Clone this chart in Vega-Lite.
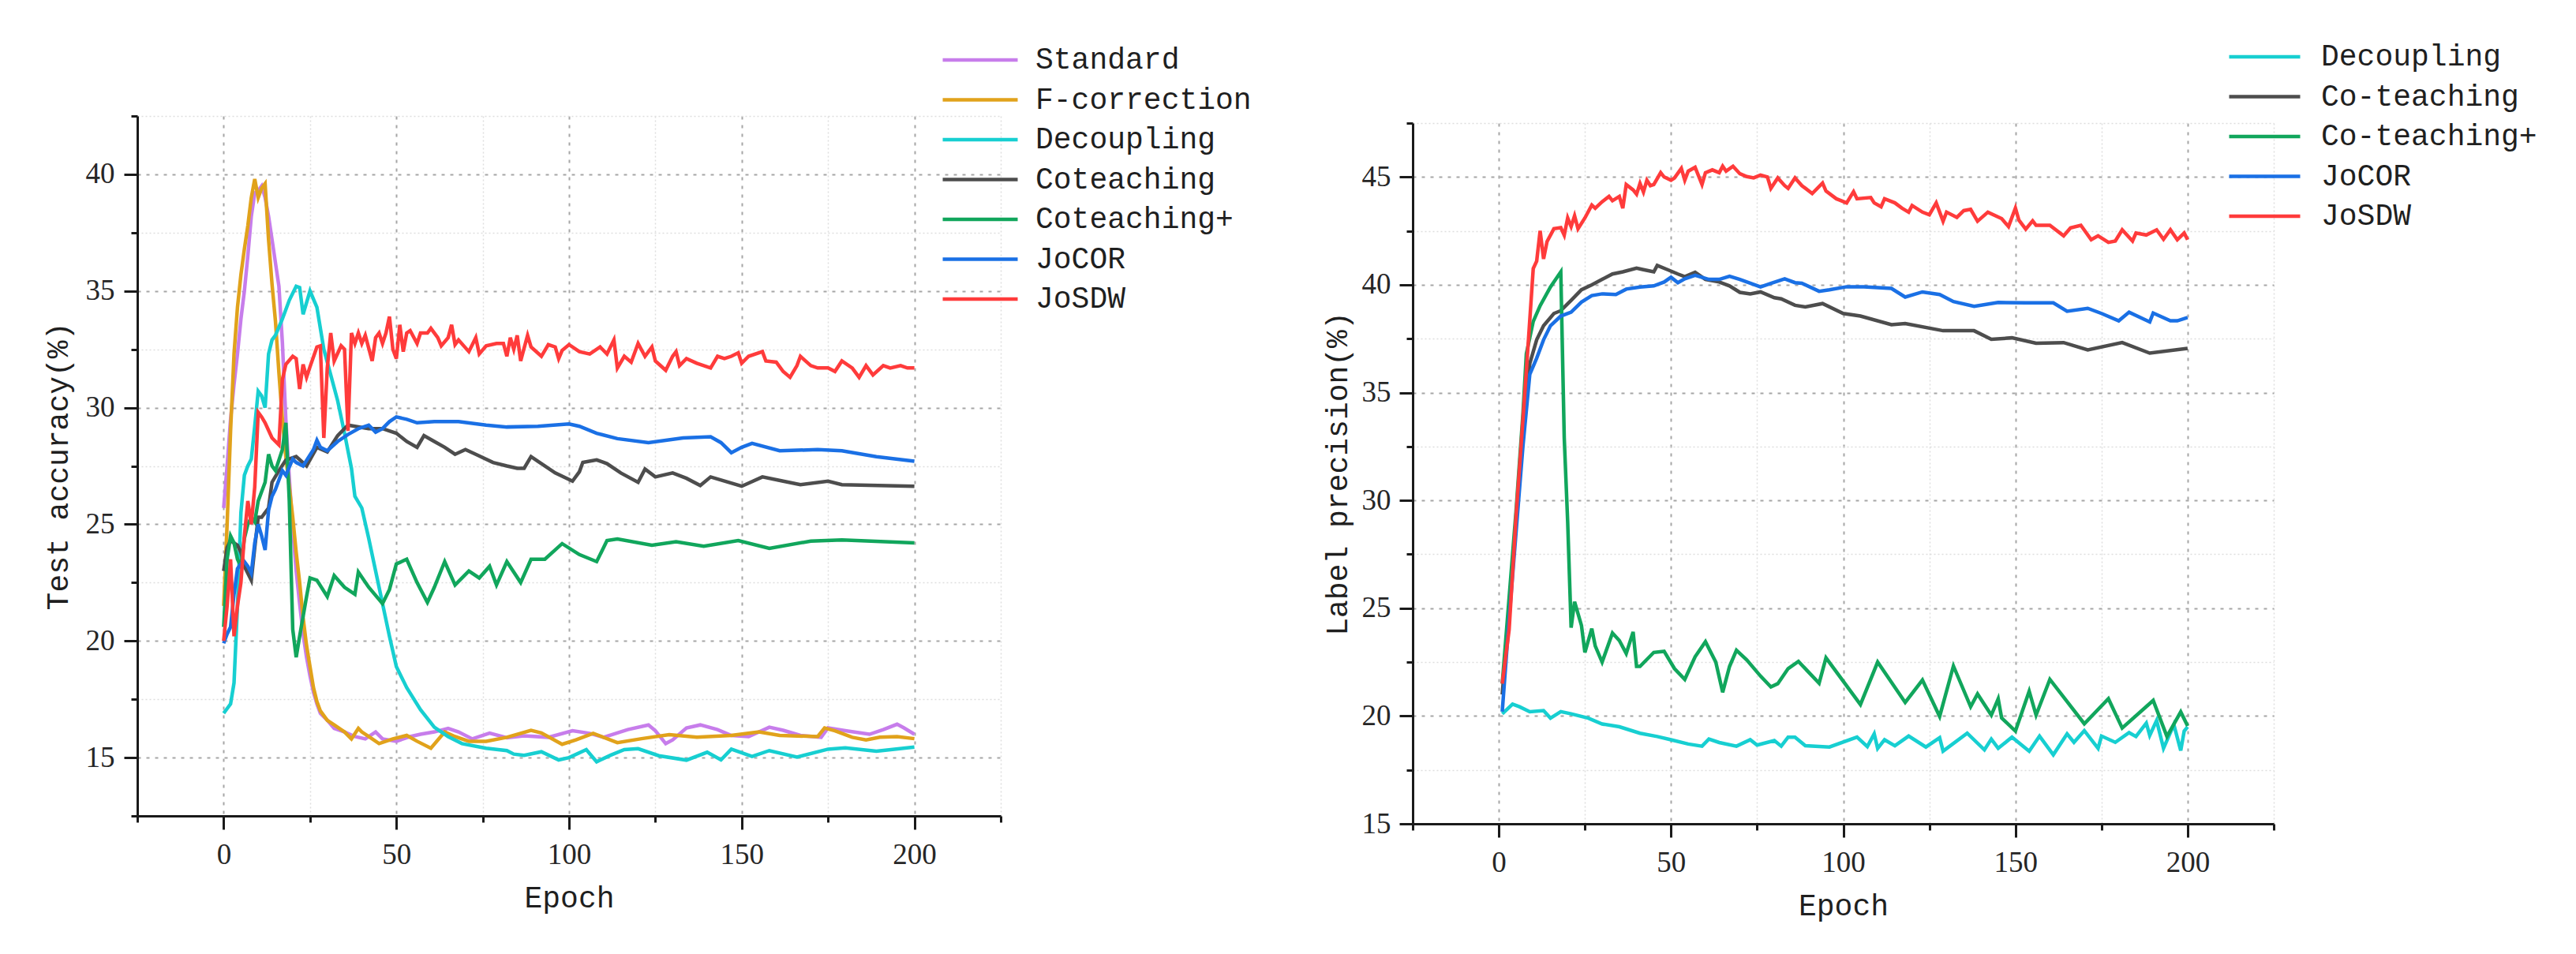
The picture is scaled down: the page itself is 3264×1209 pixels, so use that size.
{
  "$schema": "https://vega.github.io/schema/vega-lite/v6.json",
  "background": "white",
  "padding": {"left": 55, "top": 52, "right": 10, "bottom": 10},
  "autosize": {"type": "pad"},
  "config": {
    "view": {"stroke": null},
    "axis": {
      "domainColor": "#1a1a1a",
      "domainWidth": 3,
      "tickColor": "#1a1a1a",
      "tickWidth": 3,
      "labelFont": "Liberation Serif",
      "labelFontSize": 37,
      "labelColor": "#262626",
      "titleFont": "Liberation Mono",
      "titleFontSize": 38,
      "titleFontWeight": "normal",
      "titleColor": "#1f1f1f",
      "grid": true,
      "labelFlush": false,
      "labelOverlap": false
    },
    "legend": {
      "orient": "none",
      "title": null,
      "symbolType": "stroke",
      "symbolStrokeWidth": 4.5,
      "clipHeight": 40,
      "rowPadding": 10.5,
      "labelFont": "Liberation Mono",
      "labelFontSize": 38,
      "labelColor": "#1f1f1f",
      "labelLimit": 0,
      "padding": 0
    }
  },
  "datasets": {
    "acc": [
      {"method": "Standard", "epoch": 0, "value": 25.7}, {"method": "Standard", "epoch": 1, "value": 27.5}, {"method": "Standard", "epoch": 2, "value": 29.5}, {"method": "Standard", "epoch": 3, "value": 31}, {"method": "Standard", "epoch": 4, "value": 32.3}, {"method": "Standard", "epoch": 5, "value": 33.8}, {"method": "Standard", "epoch": 6, "value": 35}, {"method": "Standard", "epoch": 7, "value": 36.5}, {"method": "Standard", "epoch": 8, "value": 38.2}, {"method": "Standard", "epoch": 9, "value": 39.2}, {"method": "Standard", "epoch": 10, "value": 39.3}, {"method": "Standard", "epoch": 11, "value": 39.5}, {"method": "Standard", "epoch": 12, "value": 39}, {"method": "Standard", "epoch": 13, "value": 38.2}, {"method": "Standard", "epoch": 14, "value": 37.2}, {"method": "Standard", "epoch": 15, "value": 36.2}, {"method": "Standard", "epoch": 16, "value": 35.2}, {"method": "Standard", "epoch": 17, "value": 32.8}, {"method": "Standard", "epoch": 18, "value": 29.5}, {"method": "Standard", "epoch": 19, "value": 27}, {"method": "Standard", "epoch": 20, "value": 24.8}, {"method": "Standard", "epoch": 21, "value": 23}, {"method": "Standard", "epoch": 22, "value": 21.6}, {"method": "Standard", "epoch": 23, "value": 20.3}, {"method": "Standard", "epoch": 24, "value": 19.3}, {"method": "Standard", "epoch": 25, "value": 18.5}, {"method": "Standard", "epoch": 26, "value": 17.8}, {"method": "Standard", "epoch": 27, "value": 17.3}, {"method": "Standard", "epoch": 28, "value": 16.9}, {"method": "Standard", "epoch": 30, "value": 16.6}, {"method": "Standard", "epoch": 32, "value": 16.25}, {"method": "Standard", "epoch": 35, "value": 16.1}, {"method": "Standard", "epoch": 38, "value": 15.9}, {"method": "Standard", "epoch": 41, "value": 15.8}, {"method": "Standard", "epoch": 44, "value": 16.1}, {"method": "Standard", "epoch": 46, "value": 15.8}, {"method": "Standard", "epoch": 50, "value": 15.7}, {"method": "Standard", "epoch": 54, "value": 15.9}, {"method": "Standard", "epoch": 57, "value": 16}, {"method": "Standard", "epoch": 61, "value": 16.1}, {"method": "Standard", "epoch": 65, "value": 16.25}, {"method": "Standard", "epoch": 68, "value": 16.1}, {"method": "Standard", "epoch": 72, "value": 15.8}, {"method": "Standard", "epoch": 77, "value": 16.05}, {"method": "Standard", "epoch": 82, "value": 15.85}, {"method": "Standard", "epoch": 87, "value": 15.93}, {"method": "Standard", "epoch": 94, "value": 15.87}, {"method": "Standard", "epoch": 101, "value": 16.15}, {"method": "Standard", "epoch": 106, "value": 16.04}, {"method": "Standard", "epoch": 110, "value": 15.87}, {"method": "Standard", "epoch": 117, "value": 16.2}, {"method": "Standard", "epoch": 123, "value": 16.4}, {"method": "Standard", "epoch": 125, "value": 16.15}, {"method": "Standard", "epoch": 128, "value": 15.6}, {"method": "Standard", "epoch": 130, "value": 15.76}, {"method": "Standard", "epoch": 134, "value": 16.27}, {"method": "Standard", "epoch": 138, "value": 16.4}, {"method": "Standard", "epoch": 143, "value": 16.2}, {"method": "Standard", "epoch": 147, "value": 15.95}, {"method": "Standard", "epoch": 152, "value": 15.9}, {"method": "Standard", "epoch": 158, "value": 16.3}, {"method": "Standard", "epoch": 162, "value": 16.17}, {"method": "Standard", "epoch": 167, "value": 15.95}, {"method": "Standard", "epoch": 173, "value": 15.87}, {"method": "Standard", "epoch": 175, "value": 16.27}, {"method": "Standard", "epoch": 180, "value": 16.15}, {"method": "Standard", "epoch": 187, "value": 16}, {"method": "Standard", "epoch": 191, "value": 16.2}, {"method": "Standard", "epoch": 195, "value": 16.43}, {"method": "Standard", "epoch": 197, "value": 16.27}, {"method": "Standard", "epoch": 200, "value": 16.0},
      {"method": "F-correction", "epoch": 0, "value": 21.5}, {"method": "F-correction", "epoch": 1, "value": 25}, {"method": "F-correction", "epoch": 2, "value": 29}, {"method": "F-correction", "epoch": 3, "value": 32.3}, {"method": "F-correction", "epoch": 4, "value": 34.3}, {"method": "F-correction", "epoch": 5, "value": 35.7}, {"method": "F-correction", "epoch": 6, "value": 36.8}, {"method": "F-correction", "epoch": 7, "value": 37.8}, {"method": "F-correction", "epoch": 8, "value": 39}, {"method": "F-correction", "epoch": 9, "value": 39.8}, {"method": "F-correction", "epoch": 10, "value": 39}, {"method": "F-correction", "epoch": 11, "value": 39.4}, {"method": "F-correction", "epoch": 12, "value": 39.6}, {"method": "F-correction", "epoch": 13, "value": 37.2}, {"method": "F-correction", "epoch": 14, "value": 35.3}, {"method": "F-correction", "epoch": 15, "value": 33.7}, {"method": "F-correction", "epoch": 16, "value": 31.5}, {"method": "F-correction", "epoch": 17, "value": 29.5}, {"method": "F-correction", "epoch": 18, "value": 27.9}, {"method": "F-correction", "epoch": 19, "value": 26.6}, {"method": "F-correction", "epoch": 20, "value": 25.3}, {"method": "F-correction", "epoch": 21, "value": 23.8}, {"method": "F-correction", "epoch": 22, "value": 22.5}, {"method": "F-correction", "epoch": 23, "value": 21}, {"method": "F-correction", "epoch": 24, "value": 19.8}, {"method": "F-correction", "epoch": 25, "value": 18.9}, {"method": "F-correction", "epoch": 26, "value": 18}, {"method": "F-correction", "epoch": 27, "value": 17.4}, {"method": "F-correction", "epoch": 28, "value": 17}, {"method": "F-correction", "epoch": 29, "value": 16.8}, {"method": "F-correction", "epoch": 30, "value": 16.6}, {"method": "F-correction", "epoch": 32, "value": 16.4}, {"method": "F-correction", "epoch": 34, "value": 16.2}, {"method": "F-correction", "epoch": 35, "value": 16.1}, {"method": "F-correction", "epoch": 37, "value": 15.8}, {"method": "F-correction", "epoch": 39, "value": 16.25}, {"method": "F-correction", "epoch": 40, "value": 16.1}, {"method": "F-correction", "epoch": 42, "value": 15.9}, {"method": "F-correction", "epoch": 45, "value": 15.6}, {"method": "F-correction", "epoch": 49, "value": 15.8}, {"method": "F-correction", "epoch": 53, "value": 15.95}, {"method": "F-correction", "epoch": 56, "value": 15.7}, {"method": "F-correction", "epoch": 60, "value": 15.4}, {"method": "F-correction", "epoch": 64, "value": 16.1}, {"method": "F-correction", "epoch": 67, "value": 15.9}, {"method": "F-correction", "epoch": 71, "value": 15.7}, {"method": "F-correction", "epoch": 76, "value": 15.7}, {"method": "F-correction", "epoch": 82, "value": 15.87}, {"method": "F-correction", "epoch": 89, "value": 16.17}, {"method": "F-correction", "epoch": 92, "value": 16.06}, {"method": "F-correction", "epoch": 98, "value": 15.57}, {"method": "F-correction", "epoch": 102, "value": 15.76}, {"method": "F-correction", "epoch": 107, "value": 16.04}, {"method": "F-correction", "epoch": 114, "value": 15.64}, {"method": "F-correction", "epoch": 121, "value": 15.81}, {"method": "F-correction", "epoch": 129, "value": 15.98}, {"method": "F-correction", "epoch": 137, "value": 15.87}, {"method": "F-correction", "epoch": 147, "value": 15.95}, {"method": "F-correction", "epoch": 155, "value": 16.1}, {"method": "F-correction", "epoch": 161, "value": 15.95}, {"method": "F-correction", "epoch": 172, "value": 15.9}, {"method": "F-correction", "epoch": 174, "value": 16.27}, {"method": "F-correction", "epoch": 177, "value": 16.15}, {"method": "F-correction", "epoch": 182, "value": 15.87}, {"method": "F-correction", "epoch": 186, "value": 15.76}, {"method": "F-correction", "epoch": 190, "value": 15.87}, {"method": "F-correction", "epoch": 195, "value": 15.9}, {"method": "F-correction", "epoch": 200, "value": 15.81},
      {"method": "Decoupling", "epoch": 0, "value": 16.9}, {"method": "Decoupling", "epoch": 1, "value": 17.1}, {"method": "Decoupling", "epoch": 2, "value": 17.3}, {"method": "Decoupling", "epoch": 3, "value": 18.2}, {"method": "Decoupling", "epoch": 4, "value": 21.5}, {"method": "Decoupling", "epoch": 5, "value": 25.5}, {"method": "Decoupling", "epoch": 6, "value": 27.1}, {"method": "Decoupling", "epoch": 7, "value": 27.5}, {"method": "Decoupling", "epoch": 8, "value": 27.8}, {"method": "Decoupling", "epoch": 9, "value": 29.2}, {"method": "Decoupling", "epoch": 10, "value": 30.7}, {"method": "Decoupling", "epoch": 11, "value": 30.5}, {"method": "Decoupling", "epoch": 12, "value": 30}, {"method": "Decoupling", "epoch": 13, "value": 32.3}, {"method": "Decoupling", "epoch": 14, "value": 32.9}, {"method": "Decoupling", "epoch": 15, "value": 33.1}, {"method": "Decoupling", "epoch": 17, "value": 33.8}, {"method": "Decoupling", "epoch": 19, "value": 34.6}, {"method": "Decoupling", "epoch": 21, "value": 35.2}, {"method": "Decoupling", "epoch": 22, "value": 35.15}, {"method": "Decoupling", "epoch": 23, "value": 34}, {"method": "Decoupling", "epoch": 25, "value": 35}, {"method": "Decoupling", "epoch": 27, "value": 34.3}, {"method": "Decoupling", "epoch": 29, "value": 32.5}, {"method": "Decoupling", "epoch": 31, "value": 31.4}, {"method": "Decoupling", "epoch": 33, "value": 30.3}, {"method": "Decoupling", "epoch": 35, "value": 28.9}, {"method": "Decoupling", "epoch": 37, "value": 27.4}, {"method": "Decoupling", "epoch": 38, "value": 26.2}, {"method": "Decoupling", "epoch": 40, "value": 25.7}, {"method": "Decoupling", "epoch": 42, "value": 24.4}, {"method": "Decoupling", "epoch": 45, "value": 22.3}, {"method": "Decoupling", "epoch": 48, "value": 20.2}, {"method": "Decoupling", "epoch": 50, "value": 18.9}, {"method": "Decoupling", "epoch": 53, "value": 18}, {"method": "Decoupling", "epoch": 57, "value": 17.05}, {"method": "Decoupling", "epoch": 61, "value": 16.3}, {"method": "Decoupling", "epoch": 65, "value": 15.9}, {"method": "Decoupling", "epoch": 69, "value": 15.6}, {"method": "Decoupling", "epoch": 76, "value": 15.4}, {"method": "Decoupling", "epoch": 82, "value": 15.3}, {"method": "Decoupling", "epoch": 84, "value": 15.15}, {"method": "Decoupling", "epoch": 87, "value": 15.1}, {"method": "Decoupling", "epoch": 92, "value": 15.25}, {"method": "Decoupling", "epoch": 97, "value": 14.9}, {"method": "Decoupling", "epoch": 100, "value": 15.0}, {"method": "Decoupling", "epoch": 105, "value": 15.34}, {"method": "Decoupling", "epoch": 108, "value": 14.82}, {"method": "Decoupling", "epoch": 112, "value": 15.1}, {"method": "Decoupling", "epoch": 116, "value": 15.34}, {"method": "Decoupling", "epoch": 120, "value": 15.38}, {"method": "Decoupling", "epoch": 126, "value": 15.08}, {"method": "Decoupling", "epoch": 134, "value": 14.89}, {"method": "Decoupling", "epoch": 140, "value": 15.23}, {"method": "Decoupling", "epoch": 144, "value": 14.9}, {"method": "Decoupling", "epoch": 147, "value": 15.36}, {"method": "Decoupling", "epoch": 153, "value": 15.05}, {"method": "Decoupling", "epoch": 158, "value": 15.3}, {"method": "Decoupling", "epoch": 166, "value": 15.02}, {"method": "Decoupling", "epoch": 175, "value": 15.36}, {"method": "Decoupling", "epoch": 180, "value": 15.42}, {"method": "Decoupling", "epoch": 189, "value": 15.27}, {"method": "Decoupling", "epoch": 200, "value": 15.45},
      {"method": "Coteaching", "epoch": 0, "value": 23}, {"method": "Coteaching", "epoch": 1, "value": 24}, {"method": "Coteaching", "epoch": 2, "value": 24.3}, {"method": "Coteaching", "epoch": 4, "value": 24.1}, {"method": "Coteaching", "epoch": 5, "value": 23.8}, {"method": "Coteaching", "epoch": 6, "value": 23.2}, {"method": "Coteaching", "epoch": 8, "value": 22.6}, {"method": "Coteaching", "epoch": 9, "value": 24}, {"method": "Coteaching", "epoch": 10, "value": 25.3}, {"method": "Coteaching", "epoch": 11, "value": 25.3}, {"method": "Coteaching", "epoch": 12, "value": 25.5}, {"method": "Coteaching", "epoch": 13, "value": 25.7}, {"method": "Coteaching", "epoch": 14, "value": 26.8}, {"method": "Coteaching", "epoch": 16, "value": 27.3}, {"method": "Coteaching", "epoch": 18, "value": 27.75}, {"method": "Coteaching", "epoch": 21, "value": 27.9}, {"method": "Coteaching", "epoch": 24, "value": 27.5}, {"method": "Coteaching", "epoch": 27, "value": 28.3}, {"method": "Coteaching", "epoch": 30, "value": 28.1}, {"method": "Coteaching", "epoch": 33, "value": 28.8}, {"method": "Coteaching", "epoch": 36, "value": 29.25}, {"method": "Coteaching", "epoch": 38, "value": 29.2}, {"method": "Coteaching", "epoch": 42, "value": 29.1}, {"method": "Coteaching", "epoch": 46, "value": 29.1}, {"method": "Coteaching", "epoch": 50, "value": 28.9}, {"method": "Coteaching", "epoch": 53, "value": 28.55}, {"method": "Coteaching", "epoch": 56, "value": 28.3}, {"method": "Coteaching", "epoch": 58, "value": 28.8}, {"method": "Coteaching", "epoch": 61, "value": 28.55}, {"method": "Coteaching", "epoch": 64, "value": 28.3}, {"method": "Coteaching", "epoch": 67, "value": 28}, {"method": "Coteaching", "epoch": 70, "value": 28.2}, {"method": "Coteaching", "epoch": 73, "value": 28}, {"method": "Coteaching", "epoch": 78, "value": 27.65}, {"method": "Coteaching", "epoch": 82, "value": 27.5}, {"method": "Coteaching", "epoch": 85, "value": 27.4}, {"method": "Coteaching", "epoch": 87, "value": 27.4}, {"method": "Coteaching", "epoch": 89, "value": 27.9}, {"method": "Coteaching", "epoch": 91, "value": 27.7}, {"method": "Coteaching", "epoch": 96, "value": 27.2}, {"method": "Coteaching", "epoch": 101, "value": 26.85}, {"method": "Coteaching", "epoch": 103, "value": 27.25}, {"method": "Coteaching", "epoch": 104, "value": 27.65}, {"method": "Coteaching", "epoch": 108, "value": 27.76}, {"method": "Coteaching", "epoch": 111, "value": 27.6}, {"method": "Coteaching", "epoch": 115, "value": 27.2}, {"method": "Coteaching", "epoch": 120, "value": 26.8}, {"method": "Coteaching", "epoch": 122, "value": 27.37}, {"method": "Coteaching", "epoch": 125, "value": 27.03}, {"method": "Coteaching", "epoch": 130, "value": 27.2}, {"method": "Coteaching", "epoch": 134, "value": 26.97}, {"method": "Coteaching", "epoch": 138, "value": 26.66}, {"method": "Coteaching", "epoch": 141, "value": 27.03}, {"method": "Coteaching", "epoch": 145, "value": 26.85}, {"method": "Coteaching", "epoch": 150, "value": 26.63}, {"method": "Coteaching", "epoch": 156, "value": 27.03}, {"method": "Coteaching", "epoch": 162, "value": 26.85}, {"method": "Coteaching", "epoch": 167, "value": 26.7}, {"method": "Coteaching", "epoch": 175, "value": 26.85}, {"method": "Coteaching", "epoch": 179, "value": 26.7}, {"method": "Coteaching", "epoch": 200, "value": 26.63},
      {"method": "Coteaching+", "epoch": 0, "value": 20.6}, {"method": "Coteaching+", "epoch": 1, "value": 23.5}, {"method": "Coteaching+", "epoch": 2, "value": 24.5}, {"method": "Coteaching+", "epoch": 3, "value": 24.2}, {"method": "Coteaching+", "epoch": 4, "value": 23.5}, {"method": "Coteaching+", "epoch": 5, "value": 23.2}, {"method": "Coteaching+", "epoch": 6, "value": 24.4}, {"method": "Coteaching+", "epoch": 7, "value": 25}, {"method": "Coteaching+", "epoch": 8, "value": 25.3}, {"method": "Coteaching+", "epoch": 9, "value": 25.1}, {"method": "Coteaching+", "epoch": 10, "value": 26}, {"method": "Coteaching+", "epoch": 11, "value": 26.4}, {"method": "Coteaching+", "epoch": 12, "value": 26.8}, {"method": "Coteaching+", "epoch": 13, "value": 28}, {"method": "Coteaching+", "epoch": 14, "value": 27.5}, {"method": "Coteaching+", "epoch": 15, "value": 27.3}, {"method": "Coteaching+", "epoch": 17, "value": 28.2}, {"method": "Coteaching+", "epoch": 18, "value": 29.35}, {"method": "Coteaching+", "epoch": 19, "value": 26}, {"method": "Coteaching+", "epoch": 20, "value": 20.5}, {"method": "Coteaching+", "epoch": 21, "value": 19.3}, {"method": "Coteaching+", "epoch": 22, "value": 20.2}, {"method": "Coteaching+", "epoch": 24, "value": 21.9}, {"method": "Coteaching+", "epoch": 25, "value": 22.7}, {"method": "Coteaching+", "epoch": 27, "value": 22.6}, {"method": "Coteaching+", "epoch": 30, "value": 21.9}, {"method": "Coteaching+", "epoch": 32, "value": 22.8}, {"method": "Coteaching+", "epoch": 35, "value": 22.3}, {"method": "Coteaching+", "epoch": 38, "value": 22}, {"method": "Coteaching+", "epoch": 39, "value": 22.95}, {"method": "Coteaching+", "epoch": 42, "value": 22.3}, {"method": "Coteaching+", "epoch": 46, "value": 21.6}, {"method": "Coteaching+", "epoch": 48, "value": 22.2}, {"method": "Coteaching+", "epoch": 50, "value": 23.3}, {"method": "Coteaching+", "epoch": 53, "value": 23.5}, {"method": "Coteaching+", "epoch": 56, "value": 22.5}, {"method": "Coteaching+", "epoch": 59, "value": 21.65}, {"method": "Coteaching+", "epoch": 61, "value": 22.3}, {"method": "Coteaching+", "epoch": 64, "value": 23.4}, {"method": "Coteaching+", "epoch": 67, "value": 22.4}, {"method": "Coteaching+", "epoch": 71, "value": 23}, {"method": "Coteaching+", "epoch": 74, "value": 22.7}, {"method": "Coteaching+", "epoch": 77, "value": 23.2}, {"method": "Coteaching+", "epoch": 79, "value": 22.4}, {"method": "Coteaching+", "epoch": 82, "value": 23.4}, {"method": "Coteaching+", "epoch": 84, "value": 22.95}, {"method": "Coteaching+", "epoch": 86, "value": 22.5}, {"method": "Coteaching+", "epoch": 89, "value": 23.5}, {"method": "Coteaching+", "epoch": 93, "value": 23.5}, {"method": "Coteaching+", "epoch": 98, "value": 24.17}, {"method": "Coteaching+", "epoch": 103, "value": 23.7}, {"method": "Coteaching+", "epoch": 108, "value": 23.4}, {"method": "Coteaching+", "epoch": 111, "value": 24.3}, {"method": "Coteaching+", "epoch": 114, "value": 24.37}, {"method": "Coteaching+", "epoch": 124, "value": 24.1}, {"method": "Coteaching+", "epoch": 131, "value": 24.25}, {"method": "Coteaching+", "epoch": 139, "value": 24.06}, {"method": "Coteaching+", "epoch": 149, "value": 24.3}, {"method": "Coteaching+", "epoch": 158, "value": 23.97}, {"method": "Coteaching+", "epoch": 170, "value": 24.28}, {"method": "Coteaching+", "epoch": 179, "value": 24.33}, {"method": "Coteaching+", "epoch": 200, "value": 24.2},
      {"method": "JoCOR", "epoch": 0, "value": 19.9}, {"method": "JoCOR", "epoch": 1, "value": 20.3}, {"method": "JoCOR", "epoch": 2, "value": 20.6}, {"method": "JoCOR", "epoch": 3, "value": 22}, {"method": "JoCOR", "epoch": 4, "value": 23.1}, {"method": "JoCOR", "epoch": 5, "value": 23.3}, {"method": "JoCOR", "epoch": 6, "value": 23.4}, {"method": "JoCOR", "epoch": 7, "value": 23.2}, {"method": "JoCOR", "epoch": 8, "value": 22.9}, {"method": "JoCOR", "epoch": 9, "value": 24.2}, {"method": "JoCOR", "epoch": 10, "value": 25}, {"method": "JoCOR", "epoch": 11, "value": 24.5}, {"method": "JoCOR", "epoch": 12, "value": 23.9}, {"method": "JoCOR", "epoch": 13, "value": 25.6}, {"method": "JoCOR", "epoch": 14, "value": 26.2}, {"method": "JoCOR", "epoch": 15, "value": 26.5}, {"method": "JoCOR", "epoch": 17, "value": 27.3}, {"method": "JoCOR", "epoch": 18, "value": 27.1}, {"method": "JoCOR", "epoch": 20, "value": 27.8}, {"method": "JoCOR", "epoch": 21, "value": 27.65}, {"method": "JoCOR", "epoch": 23, "value": 27.5}, {"method": "JoCOR", "epoch": 26, "value": 28.2}, {"method": "JoCOR", "epoch": 27, "value": 28.6}, {"method": "JoCOR", "epoch": 28, "value": 28.3}, {"method": "JoCOR", "epoch": 30, "value": 28.15}, {"method": "JoCOR", "epoch": 33, "value": 28.55}, {"method": "JoCOR", "epoch": 36, "value": 28.85}, {"method": "JoCOR", "epoch": 39, "value": 29.1}, {"method": "JoCOR", "epoch": 42, "value": 29.25}, {"method": "JoCOR", "epoch": 44, "value": 28.95}, {"method": "JoCOR", "epoch": 46, "value": 29.1}, {"method": "JoCOR", "epoch": 48, "value": 29.4}, {"method": "JoCOR", "epoch": 50, "value": 29.6}, {"method": "JoCOR", "epoch": 53, "value": 29.5}, {"method": "JoCOR", "epoch": 56, "value": 29.35}, {"method": "JoCOR", "epoch": 61, "value": 29.4}, {"method": "JoCOR", "epoch": 68, "value": 29.4}, {"method": "JoCOR", "epoch": 76, "value": 29.25}, {"method": "JoCOR", "epoch": 82, "value": 29.17}, {"method": "JoCOR", "epoch": 91, "value": 29.2}, {"method": "JoCOR", "epoch": 100, "value": 29.3}, {"method": "JoCOR", "epoch": 103, "value": 29.2}, {"method": "JoCOR", "epoch": 108, "value": 28.9}, {"method": "JoCOR", "epoch": 114, "value": 28.67}, {"method": "JoCOR", "epoch": 123, "value": 28.5}, {"method": "JoCOR", "epoch": 133, "value": 28.7}, {"method": "JoCOR", "epoch": 141, "value": 28.75}, {"method": "JoCOR", "epoch": 144, "value": 28.5}, {"method": "JoCOR", "epoch": 147, "value": 28.07}, {"method": "JoCOR", "epoch": 150, "value": 28.3}, {"method": "JoCOR", "epoch": 153, "value": 28.47}, {"method": "JoCOR", "epoch": 161, "value": 28.15}, {"method": "JoCOR", "epoch": 172, "value": 28.2}, {"method": "JoCOR", "epoch": 179, "value": 28.15}, {"method": "JoCOR", "epoch": 189, "value": 27.9}, {"method": "JoCOR", "epoch": 200, "value": 27.7},
      {"method": "JoSDW", "epoch": 0, "value": 20}, {"method": "JoSDW", "epoch": 1, "value": 21.5}, {"method": "JoSDW", "epoch": 2, "value": 23.5}, {"method": "JoSDW", "epoch": 3, "value": 20.2}, {"method": "JoSDW", "epoch": 4, "value": 21.5}, {"method": "JoSDW", "epoch": 5, "value": 22.5}, {"method": "JoSDW", "epoch": 6, "value": 24.5}, {"method": "JoSDW", "epoch": 7, "value": 26}, {"method": "JoSDW", "epoch": 8, "value": 25}, {"method": "JoSDW", "epoch": 9, "value": 26.6}, {"method": "JoSDW", "epoch": 10, "value": 29.8}, {"method": "JoSDW", "epoch": 11, "value": 29.6}, {"method": "JoSDW", "epoch": 12, "value": 29.35}, {"method": "JoSDW", "epoch": 14, "value": 28.7}, {"method": "JoSDW", "epoch": 16, "value": 28.4}, {"method": "JoSDW", "epoch": 17, "value": 31.2}, {"method": "JoSDW", "epoch": 18, "value": 31.85}, {"method": "JoSDW", "epoch": 20, "value": 32.2}, {"method": "JoSDW", "epoch": 21, "value": 32.1}, {"method": "JoSDW", "epoch": 22, "value": 30.8}, {"method": "JoSDW", "epoch": 23, "value": 31.85}, {"method": "JoSDW", "epoch": 24, "value": 31.3}, {"method": "JoSDW", "epoch": 25, "value": 31.75}, {"method": "JoSDW", "epoch": 27, "value": 32.6}, {"method": "JoSDW", "epoch": 28, "value": 32.65}, {"method": "JoSDW", "epoch": 29, "value": 28.7}, {"method": "JoSDW", "epoch": 30, "value": 31.7}, {"method": "JoSDW", "epoch": 31, "value": 33.2}, {"method": "JoSDW", "epoch": 32, "value": 32}, {"method": "JoSDW", "epoch": 34, "value": 32.65}, {"method": "JoSDW", "epoch": 35, "value": 32.5}, {"method": "JoSDW", "epoch": 36, "value": 29}, {"method": "JoSDW", "epoch": 37, "value": 33.2}, {"method": "JoSDW", "epoch": 38, "value": 32.75}, {"method": "JoSDW", "epoch": 39, "value": 33.2}, {"method": "JoSDW", "epoch": 40, "value": 32.75}, {"method": "JoSDW", "epoch": 41, "value": 33.1}, {"method": "JoSDW", "epoch": 43, "value": 32}, {"method": "JoSDW", "epoch": 44, "value": 33}, {"method": "JoSDW", "epoch": 45, "value": 33.2}, {"method": "JoSDW", "epoch": 46, "value": 32.75}, {"method": "JoSDW", "epoch": 47, "value": 33.2}, {"method": "JoSDW", "epoch": 48, "value": 33.9}, {"method": "JoSDW", "epoch": 49, "value": 32.5}, {"method": "JoSDW", "epoch": 50, "value": 32.1}, {"method": "JoSDW", "epoch": 51, "value": 33.55}, {"method": "JoSDW", "epoch": 52, "value": 32.4}, {"method": "JoSDW", "epoch": 53, "value": 33.2}, {"method": "JoSDW", "epoch": 54, "value": 33.3}, {"method": "JoSDW", "epoch": 56, "value": 32.75}, {"method": "JoSDW", "epoch": 57, "value": 33.2}, {"method": "JoSDW", "epoch": 59, "value": 33.2}, {"method": "JoSDW", "epoch": 60, "value": 33.4}, {"method": "JoSDW", "epoch": 62, "value": 33}, {"method": "JoSDW", "epoch": 63, "value": 32.65}, {"method": "JoSDW", "epoch": 65, "value": 33}, {"method": "JoSDW", "epoch": 66, "value": 33.55}, {"method": "JoSDW", "epoch": 67, "value": 32.7}, {"method": "JoSDW", "epoch": 68, "value": 32.9}, {"method": "JoSDW", "epoch": 71, "value": 32.4}, {"method": "JoSDW", "epoch": 73, "value": 33}, {"method": "JoSDW", "epoch": 74, "value": 32.3}, {"method": "JoSDW", "epoch": 76, "value": 32.65}, {"method": "JoSDW", "epoch": 79, "value": 32.75}, {"method": "JoSDW", "epoch": 81, "value": 32.75}, {"method": "JoSDW", "epoch": 82, "value": 32.2}, {"method": "JoSDW", "epoch": 83, "value": 33}, {"method": "JoSDW", "epoch": 84, "value": 32.5}, {"method": "JoSDW", "epoch": 85, "value": 33.1}, {"method": "JoSDW", "epoch": 86, "value": 32}, {"method": "JoSDW", "epoch": 88, "value": 33.1}, {"method": "JoSDW", "epoch": 89, "value": 32.6}, {"method": "JoSDW", "epoch": 92, "value": 32.2}, {"method": "JoSDW", "epoch": 94, "value": 32.7}, {"method": "JoSDW", "epoch": 96, "value": 32.6}, {"method": "JoSDW", "epoch": 97, "value": 32.1}, {"method": "JoSDW", "epoch": 98, "value": 32.45}, {"method": "JoSDW", "epoch": 100, "value": 32.7}, {"method": "JoSDW", "epoch": 103, "value": 32.4}, {"method": "JoSDW", "epoch": 106, "value": 32.3}, {"method": "JoSDW", "epoch": 109, "value": 32.6}, {"method": "JoSDW", "epoch": 111, "value": 32.3}, {"method": "JoSDW", "epoch": 113, "value": 32.9}, {"method": "JoSDW", "epoch": 114, "value": 31.7}, {"method": "JoSDW", "epoch": 116, "value": 32.2}, {"method": "JoSDW", "epoch": 118, "value": 31.95}, {"method": "JoSDW", "epoch": 120, "value": 32.75}, {"method": "JoSDW", "epoch": 122, "value": 32.2}, {"method": "JoSDW", "epoch": 124, "value": 32.6}, {"method": "JoSDW", "epoch": 125, "value": 32}, {"method": "JoSDW", "epoch": 128, "value": 31.6}, {"method": "JoSDW", "epoch": 130, "value": 32.2}, {"method": "JoSDW", "epoch": 131, "value": 32.4}, {"method": "JoSDW", "epoch": 132, "value": 31.8}, {"method": "JoSDW", "epoch": 134, "value": 32.1}, {"method": "JoSDW", "epoch": 137, "value": 31.9}, {"method": "JoSDW", "epoch": 141, "value": 31.7}, {"method": "JoSDW", "epoch": 143, "value": 32.2}, {"method": "JoSDW", "epoch": 145, "value": 32.1}, {"method": "JoSDW", "epoch": 147, "value": 32.2}, {"method": "JoSDW", "epoch": 149, "value": 32.35}, {"method": "JoSDW", "epoch": 150, "value": 31.9}, {"method": "JoSDW", "epoch": 152, "value": 32.2}, {"method": "JoSDW", "epoch": 156, "value": 32.4}, {"method": "JoSDW", "epoch": 157, "value": 32}, {"method": "JoSDW", "epoch": 160, "value": 31.95}, {"method": "JoSDW", "epoch": 162, "value": 31.55}, {"method": "JoSDW", "epoch": 164, "value": 31.3}, {"method": "JoSDW", "epoch": 166, "value": 31.8}, {"method": "JoSDW", "epoch": 167, "value": 32.2}, {"method": "JoSDW", "epoch": 170, "value": 31.8}, {"method": "JoSDW", "epoch": 172, "value": 31.7}, {"method": "JoSDW", "epoch": 175, "value": 31.7}, {"method": "JoSDW", "epoch": 177, "value": 31.55}, {"method": "JoSDW", "epoch": 179, "value": 32}, {"method": "JoSDW", "epoch": 182, "value": 31.7}, {"method": "JoSDW", "epoch": 184, "value": 31.3}, {"method": "JoSDW", "epoch": 186, "value": 31.8}, {"method": "JoSDW", "epoch": 188, "value": 31.4}, {"method": "JoSDW", "epoch": 191, "value": 31.8}, {"method": "JoSDW", "epoch": 193, "value": 31.7}, {"method": "JoSDW", "epoch": 196, "value": 31.8}, {"method": "JoSDW", "epoch": 198, "value": 31.7}, {"method": "JoSDW", "epoch": 200, "value": 31.7}
    ],
    "prec": [
      {"method": "Decoupling", "epoch": 1, "value": 20.1}, {"method": "Decoupling", "epoch": 4, "value": 20.55}, {"method": "Decoupling", "epoch": 6, "value": 20.43}, {"method": "Decoupling", "epoch": 9, "value": 20.2}, {"method": "Decoupling", "epoch": 13, "value": 20.25}, {"method": "Decoupling", "epoch": 15, "value": 19.9}, {"method": "Decoupling", "epoch": 18, "value": 20.2}, {"method": "Decoupling", "epoch": 21, "value": 20.1}, {"method": "Decoupling", "epoch": 26, "value": 19.9}, {"method": "Decoupling", "epoch": 30, "value": 19.63}, {"method": "Decoupling", "epoch": 35, "value": 19.5}, {"method": "Decoupling", "epoch": 41, "value": 19.2}, {"method": "Decoupling", "epoch": 46, "value": 19.05}, {"method": "Decoupling", "epoch": 50, "value": 18.9}, {"method": "Decoupling", "epoch": 55, "value": 18.7}, {"method": "Decoupling", "epoch": 59, "value": 18.6}, {"method": "Decoupling", "epoch": 61, "value": 18.93}, {"method": "Decoupling", "epoch": 64, "value": 18.77}, {"method": "Decoupling", "epoch": 69, "value": 18.6}, {"method": "Decoupling", "epoch": 73, "value": 18.9}, {"method": "Decoupling", "epoch": 75, "value": 18.65}, {"method": "Decoupling", "epoch": 80, "value": 18.86}, {"method": "Decoupling", "epoch": 82, "value": 18.6}, {"method": "Decoupling", "epoch": 84, "value": 19.02}, {"method": "Decoupling", "epoch": 86, "value": 19.02}, {"method": "Decoupling", "epoch": 89, "value": 18.62}, {"method": "Decoupling", "epoch": 96, "value": 18.56}, {"method": "Decoupling", "epoch": 104, "value": 19.02}, {"method": "Decoupling", "epoch": 107, "value": 18.58}, {"method": "Decoupling", "epoch": 109, "value": 19.17}, {"method": "Decoupling", "epoch": 110, "value": 18.5}, {"method": "Decoupling", "epoch": 112, "value": 18.9}, {"method": "Decoupling", "epoch": 115, "value": 18.62}, {"method": "Decoupling", "epoch": 119, "value": 19.07}, {"method": "Decoupling", "epoch": 124, "value": 18.56}, {"method": "Decoupling", "epoch": 128, "value": 18.99}, {"method": "Decoupling", "epoch": 129, "value": 18.37}, {"method": "Decoupling", "epoch": 136, "value": 19.2}, {"method": "Decoupling", "epoch": 141, "value": 18.43}, {"method": "Decoupling", "epoch": 143, "value": 18.93}, {"method": "Decoupling", "epoch": 145, "value": 18.5}, {"method": "Decoupling", "epoch": 149, "value": 19.02}, {"method": "Decoupling", "epoch": 154, "value": 18.37}, {"method": "Decoupling", "epoch": 157, "value": 19.07}, {"method": "Decoupling", "epoch": 161, "value": 18.2}, {"method": "Decoupling", "epoch": 165, "value": 19.17}, {"method": "Decoupling", "epoch": 167, "value": 18.78}, {"method": "Decoupling", "epoch": 170, "value": 19.32}, {"method": "Decoupling", "epoch": 174, "value": 18.5}, {"method": "Decoupling", "epoch": 175, "value": 19.07}, {"method": "Decoupling", "epoch": 179, "value": 18.78}, {"method": "Decoupling", "epoch": 183, "value": 19.23}, {"method": "Decoupling", "epoch": 185, "value": 19.05}, {"method": "Decoupling", "epoch": 188, "value": 19.67}, {"method": "Decoupling", "epoch": 189, "value": 19.1}, {"method": "Decoupling", "epoch": 191, "value": 19.79}, {"method": "Decoupling", "epoch": 193, "value": 18.5}, {"method": "Decoupling", "epoch": 196, "value": 19.6}, {"method": "Decoupling", "epoch": 198, "value": 18.4}, {"method": "Decoupling", "epoch": 199, "value": 19.3}, {"method": "Decoupling", "epoch": 200, "value": 19.5},
      {"method": "Co-teaching", "epoch": 1, "value": 21}, {"method": "Co-teaching", "epoch": 3, "value": 25}, {"method": "Co-teaching", "epoch": 5, "value": 29}, {"method": "Co-teaching", "epoch": 7, "value": 33.5}, {"method": "Co-teaching", "epoch": 9, "value": 36.35}, {"method": "Co-teaching", "epoch": 11, "value": 37.45}, {"method": "Co-teaching", "epoch": 13, "value": 38.1}, {"method": "Co-teaching", "epoch": 16, "value": 38.67}, {"method": "Co-teaching", "epoch": 18, "value": 38.8}, {"method": "Co-teaching", "epoch": 21, "value": 39.28}, {"method": "Co-teaching", "epoch": 24, "value": 39.77}, {"method": "Co-teaching", "epoch": 27, "value": 40}, {"method": "Co-teaching", "epoch": 30, "value": 40.25}, {"method": "Co-teaching", "epoch": 33, "value": 40.5}, {"method": "Co-teaching", "epoch": 36, "value": 40.6}, {"method": "Co-teaching", "epoch": 40, "value": 40.77}, {"method": "Co-teaching", "epoch": 42, "value": 40.7}, {"method": "Co-teaching", "epoch": 45, "value": 40.6}, {"method": "Co-teaching", "epoch": 46, "value": 40.9}, {"method": "Co-teaching", "epoch": 49, "value": 40.7}, {"method": "Co-teaching", "epoch": 52, "value": 40.5}, {"method": "Co-teaching", "epoch": 54, "value": 40.38}, {"method": "Co-teaching", "epoch": 57, "value": 40.58}, {"method": "Co-teaching", "epoch": 60, "value": 40.25}, {"method": "Co-teaching", "epoch": 64, "value": 40.13}, {"method": "Co-teaching", "epoch": 67, "value": 39.95}, {"method": "Co-teaching", "epoch": 70, "value": 39.65}, {"method": "Co-teaching", "epoch": 73, "value": 39.58}, {"method": "Co-teaching", "epoch": 76, "value": 39.67}, {"method": "Co-teaching", "epoch": 80, "value": 39.4}, {"method": "Co-teaching", "epoch": 82, "value": 39.35}, {"method": "Co-teaching", "epoch": 86, "value": 39.05}, {"method": "Co-teaching", "epoch": 89, "value": 38.97}, {"method": "Co-teaching", "epoch": 94, "value": 39.13}, {"method": "Co-teaching", "epoch": 100, "value": 38.67}, {"method": "Co-teaching", "epoch": 105, "value": 38.55}, {"method": "Co-teaching", "epoch": 114, "value": 38.15}, {"method": "Co-teaching", "epoch": 118, "value": 38.2}, {"method": "Co-teaching", "epoch": 129, "value": 37.87}, {"method": "Co-teaching", "epoch": 138, "value": 37.87}, {"method": "Co-teaching", "epoch": 143, "value": 37.47}, {"method": "Co-teaching", "epoch": 149, "value": 37.54}, {"method": "Co-teaching", "epoch": 156, "value": 37.29}, {"method": "Co-teaching", "epoch": 164, "value": 37.32}, {"method": "Co-teaching", "epoch": 171, "value": 36.98}, {"method": "Co-teaching", "epoch": 181, "value": 37.32}, {"method": "Co-teaching", "epoch": 189, "value": 36.83}, {"method": "Co-teaching", "epoch": 200, "value": 37.05},
      {"method": "Co-teaching+", "epoch": 1, "value": 21.5}, {"method": "Co-teaching+", "epoch": 3, "value": 25.5}, {"method": "Co-teaching+", "epoch": 5, "value": 29.5}, {"method": "Co-teaching+", "epoch": 7, "value": 34}, {"method": "Co-teaching+", "epoch": 8, "value": 36.8}, {"method": "Co-teaching+", "epoch": 10, "value": 38.3}, {"method": "Co-teaching+", "epoch": 12, "value": 39.03}, {"method": "Co-teaching+", "epoch": 15, "value": 39.9}, {"method": "Co-teaching+", "epoch": 18, "value": 40.6}, {"method": "Co-teaching+", "epoch": 19, "value": 32.9}, {"method": "Co-teaching+", "epoch": 20, "value": 29}, {"method": "Co-teaching+", "epoch": 21, "value": 24.1}, {"method": "Co-teaching+", "epoch": 22, "value": 25.3}, {"method": "Co-teaching+", "epoch": 24, "value": 24.2}, {"method": "Co-teaching+", "epoch": 25, "value": 22.95}, {"method": "Co-teaching+", "epoch": 27, "value": 24.05}, {"method": "Co-teaching+", "epoch": 28, "value": 23.25}, {"method": "Co-teaching+", "epoch": 30, "value": 22.5}, {"method": "Co-teaching+", "epoch": 33, "value": 23.85}, {"method": "Co-teaching+", "epoch": 35, "value": 23.5}, {"method": "Co-teaching+", "epoch": 37, "value": 22.9}, {"method": "Co-teaching+", "epoch": 39, "value": 23.9}, {"method": "Co-teaching+", "epoch": 40, "value": 22.3}, {"method": "Co-teaching+", "epoch": 41, "value": 22.3}, {"method": "Co-teaching+", "epoch": 45, "value": 22.95}, {"method": "Co-teaching+", "epoch": 48, "value": 23}, {"method": "Co-teaching+", "epoch": 51, "value": 22.2}, {"method": "Co-teaching+", "epoch": 54, "value": 21.7}, {"method": "Co-teaching+", "epoch": 57, "value": 22.75}, {"method": "Co-teaching+", "epoch": 60, "value": 23.45}, {"method": "Co-teaching+", "epoch": 63, "value": 22.5}, {"method": "Co-teaching+", "epoch": 65, "value": 21.1}, {"method": "Co-teaching+", "epoch": 67, "value": 22.3}, {"method": "Co-teaching+", "epoch": 69, "value": 23.05}, {"method": "Co-teaching+", "epoch": 72, "value": 22.6}, {"method": "Co-teaching+", "epoch": 76, "value": 21.85}, {"method": "Co-teaching+", "epoch": 79, "value": 21.35}, {"method": "Co-teaching+", "epoch": 81, "value": 21.5}, {"method": "Co-teaching+", "epoch": 84, "value": 22.2}, {"method": "Co-teaching+", "epoch": 87, "value": 22.53}, {"method": "Co-teaching+", "epoch": 93, "value": 21.52}, {"method": "Co-teaching+", "epoch": 95, "value": 22.7}, {"method": "Co-teaching+", "epoch": 105, "value": 20.53}, {"method": "Co-teaching+", "epoch": 110, "value": 22.5}, {"method": "Co-teaching+", "epoch": 118, "value": 20.63}, {"method": "Co-teaching+", "epoch": 123, "value": 21.67}, {"method": "Co-teaching+", "epoch": 128, "value": 19.98}, {"method": "Co-teaching+", "epoch": 132, "value": 22.32}, {"method": "Co-teaching+", "epoch": 137, "value": 20.43}, {"method": "Co-teaching+", "epoch": 139, "value": 21.02}, {"method": "Co-teaching+", "epoch": 143, "value": 20.04}, {"method": "Co-teaching+", "epoch": 145, "value": 20.8}, {"method": "Co-teaching+", "epoch": 146, "value": 19.91}, {"method": "Co-teaching+", "epoch": 150, "value": 19.3}, {"method": "Co-teaching+", "epoch": 154, "value": 21.15}, {"method": "Co-teaching+", "epoch": 156, "value": 20.04}, {"method": "Co-teaching+", "epoch": 160, "value": 21.7}, {"method": "Co-teaching+", "epoch": 170, "value": 19.64}, {"method": "Co-teaching+", "epoch": 177, "value": 20.8}, {"method": "Co-teaching+", "epoch": 181, "value": 19.44}, {"method": "Co-teaching+", "epoch": 190, "value": 20.72}, {"method": "Co-teaching+", "epoch": 194, "value": 19.05}, {"method": "Co-teaching+", "epoch": 198, "value": 20.19}, {"method": "Co-teaching+", "epoch": 200, "value": 19.54},
      {"method": "JoCOR", "epoch": 1, "value": 20.2}, {"method": "JoCOR", "epoch": 3, "value": 24.5}, {"method": "JoCOR", "epoch": 5, "value": 28.5}, {"method": "JoCOR", "epoch": 7, "value": 32.5}, {"method": "JoCOR", "epoch": 9, "value": 35.85}, {"method": "JoCOR", "epoch": 11, "value": 36.6}, {"method": "JoCOR", "epoch": 13, "value": 37.45}, {"method": "JoCOR", "epoch": 15, "value": 38.1}, {"method": "JoCOR", "epoch": 18, "value": 38.55}, {"method": "JoCOR", "epoch": 21, "value": 38.73}, {"method": "JoCOR", "epoch": 24, "value": 39.2}, {"method": "JoCOR", "epoch": 27, "value": 39.5}, {"method": "JoCOR", "epoch": 30, "value": 39.58}, {"method": "JoCOR", "epoch": 34, "value": 39.55}, {"method": "JoCOR", "epoch": 37, "value": 39.8}, {"method": "JoCOR", "epoch": 41, "value": 39.9}, {"method": "JoCOR", "epoch": 45, "value": 39.95}, {"method": "JoCOR", "epoch": 48, "value": 40.13}, {"method": "JoCOR", "epoch": 50, "value": 40.35}, {"method": "JoCOR", "epoch": 52, "value": 40.1}, {"method": "JoCOR", "epoch": 54, "value": 40.28}, {"method": "JoCOR", "epoch": 57, "value": 40.44}, {"method": "JoCOR", "epoch": 61, "value": 40.25}, {"method": "JoCOR", "epoch": 64, "value": 40.25}, {"method": "JoCOR", "epoch": 67, "value": 40.4}, {"method": "JoCOR", "epoch": 70, "value": 40.25}, {"method": "JoCOR", "epoch": 76, "value": 39.9}, {"method": "JoCOR", "epoch": 79, "value": 40.07}, {"method": "JoCOR", "epoch": 83, "value": 40.28}, {"method": "JoCOR", "epoch": 86, "value": 40.1}, {"method": "JoCOR", "epoch": 88, "value": 40.07}, {"method": "JoCOR", "epoch": 93, "value": 39.7}, {"method": "JoCOR", "epoch": 96, "value": 39.77}, {"method": "JoCOR", "epoch": 101, "value": 39.91}, {"method": "JoCOR", "epoch": 106, "value": 39.91}, {"method": "JoCOR", "epoch": 114, "value": 39.83}, {"method": "JoCOR", "epoch": 118, "value": 39.43}, {"method": "JoCOR", "epoch": 123, "value": 39.67}, {"method": "JoCOR", "epoch": 128, "value": 39.55}, {"method": "JoCOR", "epoch": 132, "value": 39.22}, {"method": "JoCOR", "epoch": 138, "value": 39}, {"method": "JoCOR", "epoch": 145, "value": 39.18}, {"method": "JoCOR", "epoch": 153, "value": 39.16}, {"method": "JoCOR", "epoch": 161, "value": 39.16}, {"method": "JoCOR", "epoch": 165, "value": 38.77}, {"method": "JoCOR", "epoch": 171, "value": 38.91}, {"method": "JoCOR", "epoch": 175, "value": 38.67}, {"method": "JoCOR", "epoch": 180, "value": 38.33}, {"method": "JoCOR", "epoch": 183, "value": 38.73}, {"method": "JoCOR", "epoch": 189, "value": 38.28}, {"method": "JoCOR", "epoch": 190, "value": 38.69}, {"method": "JoCOR", "epoch": 195, "value": 38.33}, {"method": "JoCOR", "epoch": 197, "value": 38.33}, {"method": "JoCOR", "epoch": 200, "value": 38.48},
      {"method": "JoSDW", "epoch": 1, "value": 21.5}, {"method": "JoSDW", "epoch": 3, "value": 24}, {"method": "JoSDW", "epoch": 5, "value": 29.25}, {"method": "JoSDW", "epoch": 8, "value": 36}, {"method": "JoSDW", "epoch": 10, "value": 40.75}, {"method": "JoSDW", "epoch": 11, "value": 41.1}, {"method": "JoSDW", "epoch": 12, "value": 42.5}, {"method": "JoSDW", "epoch": 13, "value": 41.2}, {"method": "JoSDW", "epoch": 14, "value": 42}, {"method": "JoSDW", "epoch": 16, "value": 42.6}, {"method": "JoSDW", "epoch": 18, "value": 42.65}, {"method": "JoSDW", "epoch": 19, "value": 42.3}, {"method": "JoSDW", "epoch": 20, "value": 43.1}, {"method": "JoSDW", "epoch": 21, "value": 42.7}, {"method": "JoSDW", "epoch": 22, "value": 43.2}, {"method": "JoSDW", "epoch": 23, "value": 42.6}, {"method": "JoSDW", "epoch": 25, "value": 43.1}, {"method": "JoSDW", "epoch": 27, "value": 43.7}, {"method": "JoSDW", "epoch": 28, "value": 43.55}, {"method": "JoSDW", "epoch": 30, "value": 43.85}, {"method": "JoSDW", "epoch": 32, "value": 44.1}, {"method": "JoSDW", "epoch": 33, "value": 43.9}, {"method": "JoSDW", "epoch": 35, "value": 44.1}, {"method": "JoSDW", "epoch": 36, "value": 43.55}, {"method": "JoSDW", "epoch": 37, "value": 44.65}, {"method": "JoSDW", "epoch": 39, "value": 44.4}, {"method": "JoSDW", "epoch": 40, "value": 44.2}, {"method": "JoSDW", "epoch": 41, "value": 44.7}, {"method": "JoSDW", "epoch": 42, "value": 44.3}, {"method": "JoSDW", "epoch": 43, "value": 44.85}, {"method": "JoSDW", "epoch": 44, "value": 44.6}, {"method": "JoSDW", "epoch": 45, "value": 44.65}, {"method": "JoSDW", "epoch": 47, "value": 45.2}, {"method": "JoSDW", "epoch": 48, "value": 45}, {"method": "JoSDW", "epoch": 50, "value": 44.85}, {"method": "JoSDW", "epoch": 51, "value": 44.95}, {"method": "JoSDW", "epoch": 53, "value": 45.4}, {"method": "JoSDW", "epoch": 54, "value": 44.85}, {"method": "JoSDW", "epoch": 55, "value": 45.27}, {"method": "JoSDW", "epoch": 57, "value": 45.45}, {"method": "JoSDW", "epoch": 59, "value": 44.65}, {"method": "JoSDW", "epoch": 60, "value": 45.2}, {"method": "JoSDW", "epoch": 62, "value": 45.33}, {"method": "JoSDW", "epoch": 64, "value": 45.2}, {"method": "JoSDW", "epoch": 65, "value": 45.5}, {"method": "JoSDW", "epoch": 66, "value": 45.27}, {"method": "JoSDW", "epoch": 68, "value": 45.5}, {"method": "JoSDW", "epoch": 70, "value": 45.15}, {"method": "JoSDW", "epoch": 72, "value": 45.02}, {"method": "JoSDW", "epoch": 74, "value": 44.96}, {"method": "JoSDW", "epoch": 76, "value": 45.09}, {"method": "JoSDW", "epoch": 78, "value": 45}, {"method": "JoSDW", "epoch": 79, "value": 44.47}, {"method": "JoSDW", "epoch": 81, "value": 44.96}, {"method": "JoSDW", "epoch": 83, "value": 44.6}, {"method": "JoSDW", "epoch": 84, "value": 44.47}, {"method": "JoSDW", "epoch": 86, "value": 44.96}, {"method": "JoSDW", "epoch": 88, "value": 44.6}, {"method": "JoSDW", "epoch": 91, "value": 44.23}, {"method": "JoSDW", "epoch": 94, "value": 44.72}, {"method": "JoSDW", "epoch": 95, "value": 44.35}, {"method": "JoSDW", "epoch": 98, "value": 43.99}, {"method": "JoSDW", "epoch": 101, "value": 43.8}, {"method": "JoSDW", "epoch": 103, "value": 44.32}, {"method": "JoSDW", "epoch": 104, "value": 43.99}, {"method": "JoSDW", "epoch": 108, "value": 44.05}, {"method": "JoSDW", "epoch": 109, "value": 43.8}, {"method": "JoSDW", "epoch": 111, "value": 43.62}, {"method": "JoSDW", "epoch": 112, "value": 43.99}, {"method": "JoSDW", "epoch": 115, "value": 43.8}, {"method": "JoSDW", "epoch": 117, "value": 43.56}, {"method": "JoSDW", "epoch": 119, "value": 43.37}, {"method": "JoSDW", "epoch": 120, "value": 43.68}, {"method": "JoSDW", "epoch": 123, "value": 43.37}, {"method": "JoSDW", "epoch": 125, "value": 43.25}, {"method": "JoSDW", "epoch": 127, "value": 43.8}, {"method": "JoSDW", "epoch": 129, "value": 42.95}, {"method": "JoSDW", "epoch": 130, "value": 43.37}, {"method": "JoSDW", "epoch": 133, "value": 43.13}, {"method": "JoSDW", "epoch": 135, "value": 43.44}, {"method": "JoSDW", "epoch": 137, "value": 43.5}, {"method": "JoSDW", "epoch": 139, "value": 42.95}, {"method": "JoSDW", "epoch": 142, "value": 43.37}, {"method": "JoSDW", "epoch": 146, "value": 43.07}, {"method": "JoSDW", "epoch": 148, "value": 42.7}, {"method": "JoSDW", "epoch": 150, "value": 43.56}, {"method": "JoSDW", "epoch": 151, "value": 43}, {"method": "JoSDW", "epoch": 153, "value": 42.58}, {"method": "JoSDW", "epoch": 155, "value": 42.97}, {"method": "JoSDW", "epoch": 156, "value": 42.76}, {"method": "JoSDW", "epoch": 160, "value": 42.76}, {"method": "JoSDW", "epoch": 164, "value": 42.27}, {"method": "JoSDW", "epoch": 166, "value": 42.64}, {"method": "JoSDW", "epoch": 169, "value": 42.76}, {"method": "JoSDW", "epoch": 172, "value": 42.09}, {"method": "JoSDW", "epoch": 174, "value": 42.27}, {"method": "JoSDW", "epoch": 177, "value": 41.97}, {"method": "JoSDW", "epoch": 179, "value": 42.03}, {"method": "JoSDW", "epoch": 181, "value": 42.55}, {"method": "JoSDW", "epoch": 184, "value": 42.03}, {"method": "JoSDW", "epoch": 185, "value": 42.4}, {"method": "JoSDW", "epoch": 188, "value": 42.31}, {"method": "JoSDW", "epoch": 191, "value": 42.55}, {"method": "JoSDW", "epoch": 193, "value": 42.11}, {"method": "JoSDW", "epoch": 195, "value": 42.55}, {"method": "JoSDW", "epoch": 197, "value": 42.09}, {"method": "JoSDW", "epoch": 199, "value": 42.4}, {"method": "JoSDW", "epoch": 200, "value": 42.09}
    ]
  },
  "bounds": "flush",
  "spacing": 522,
  "resolve": {"scale": {"color": "independent"}, "legend": {"color": "independent"}},
  "hconcat": [
    {
      "width": 1094,
      "height": 887,
      "data": {"name": "acc"},
      "mark": {"type": "line", "strokeWidth": 4.5},
      "encoding": {
        "x": {
          "field": "epoch",
          "type": "quantitative",
          "scale": {"domain": [-25, 225], "nice": false, "zero": false},
          "axis": {
            "title": "Epoch",
            "titlePadding": 18,
            "values": [-25, 0, 25, 50, 75, 100, 125, 150, 175, 200, 225],
            "labelExpr": "datum.value % 50 === 0 ? datum.label : ''",
            "labelPadding": 14,
            "tickSize": {"condition": {"test": "datum.value % 50 === 0", "value": 17}, "value": 8},
            "gridColor": {"condition": {"test": "datum.value % 50 === 0", "value": "#a6a6a6"}, "value": "#dedede"},
            "gridDash": {"condition": {"test": "datum.value % 50 === 0", "value": [4, 7]}, "value": [2, 3]},
            "gridWidth": {"condition": {"test": "datum.value % 50 === 0", "value": 2}, "value": 1.5}
          }
        },
        "y": {
          "field": "value",
          "type": "quantitative",
          "scale": {"domain": [12.5, 42.5], "nice": false, "zero": false},
          "axis": {
            "title": "Test accuracy(%)",
            "titlePadding": 15,
            "values": [12.5, 15, 17.5, 20, 22.5, 25, 27.5, 30, 32.5, 35, 37.5, 40, 42.5],
            "labelExpr": "datum.value % 5 === 0 ? datum.label : ''",
            "labelPadding": 12,
            "tickSize": {"condition": {"test": "datum.value % 5 === 0", "value": 17}, "value": 8},
            "gridColor": {"condition": {"test": "datum.value % 5 === 0", "value": "#a6a6a6"}, "value": "#dedede"},
            "gridDash": {"condition": {"test": "datum.value % 5 === 0", "value": [4, 7]}, "value": [2, 3]},
            "gridWidth": {"condition": {"test": "datum.value % 5 === 0", "value": 2}, "value": 1.5}
          }
        },
        "color": {
          "field": "method",
          "type": "nominal",
          "scale": {
            "domain": ["Standard", "F-correction", "Decoupling", "Coteaching", "Coteaching+", "JoCOR", "JoSDW"],
            "range": ["#c77deb", "#e1a21b", "#17cfd1", "#4d4d4d", "#11a65c", "#1a70e5", "#ff3b3b"]
          },
          "legend": {"legendX": 1018, "legendY": -91, "symbolSize": 9025, "labelOffset": 20}
        }
      }
    },
    {
      "bounds": "flush",
      "spacing": 8,
      "vconcat": [
        {
          "width": 1091,
          "height": 1,
          "data": {"values": []},
          "mark": "point",
          "encoding": {}
        },
        {
          "width": 1091,
          "height": 888,
          "data": {"name": "prec"},
          "mark": {"type": "line", "strokeWidth": 4.5},
          "encoding": {
            "x": {
              "field": "epoch",
              "type": "quantitative",
              "scale": {"domain": [-25, 225], "nice": false, "zero": false},
              "axis": {
                "title": "Epoch",
                "titlePadding": 18,
                "values": [-25, 0, 25, 50, 75, 100, 125, 150, 175, 200, 225],
                "labelExpr": "datum.value % 50 === 0 ? datum.label : ''",
                "labelPadding": 14,
                "tickSize": {"condition": {"test": "datum.value % 50 === 0", "value": 17}, "value": 8},
                "gridColor": {"condition": {"test": "datum.value % 50 === 0", "value": "#a6a6a6"}, "value": "#dedede"},
                "gridDash": {"condition": {"test": "datum.value % 50 === 0", "value": [4, 7]}, "value": [2, 3]},
                "gridWidth": {"condition": {"test": "datum.value % 50 === 0", "value": 2}, "value": 1.5}
              }
            },
            "y": {
              "field": "value",
              "type": "quantitative",
              "scale": {"domain": [15, 47.5], "nice": false, "zero": false},
              "axis": {
                "title": "Label precision(%)",
                "titlePadding": 11,
                "values": [15, 17.5, 20, 22.5, 25, 27.5, 30, 32.5, 35, 37.5, 40, 42.5, 45, 47.5],
                "labelExpr": "datum.value % 5 === 0 ? datum.label : ''",
                "labelPadding": 11,
                "tickSize": {"condition": {"test": "datum.value % 5 === 0", "value": 17}, "value": 8},
                "gridColor": {"condition": {"test": "datum.value % 5 === 0", "value": "#a6a6a6"}, "value": "#dedede"},
                "gridDash": {"condition": {"test": "datum.value % 5 === 0", "value": [4, 7]}, "value": [2, 3]},
                "gridWidth": {"condition": {"test": "datum.value % 5 === 0", "value": 2}, "value": 1.5}
              }
            },
            "color": {
              "field": "method",
              "type": "nominal",
              "scale": {
                "domain": ["Decoupling", "Co-teaching", "Co-teaching+", "JoCOR", "JoSDW"],
                "range": ["#17cfd1", "#4d4d4d", "#11a65c", "#1a70e5", "#ff3b3b"]
              },
              "legend": {"legendX": 1032, "legendY": -95, "symbolSize": 8100, "labelOffset": 24}
            }
          }
        }
      ]
    }
  ]
}
